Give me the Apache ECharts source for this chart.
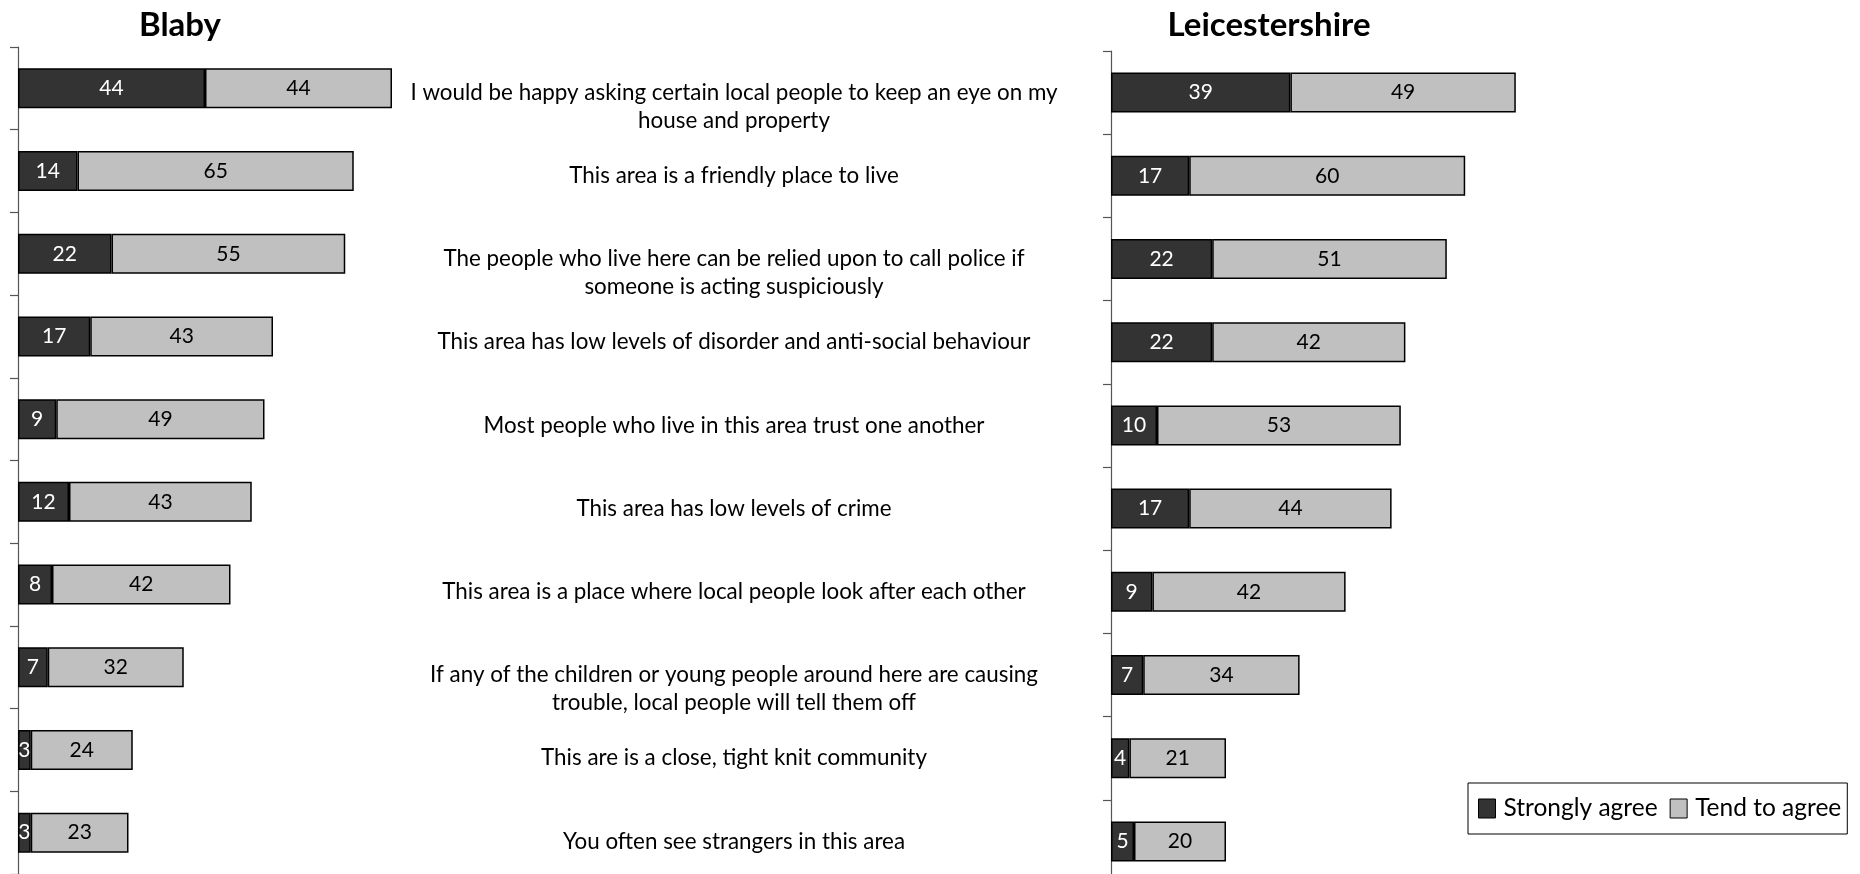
<!DOCTYPE html>
<html>
<head>
<meta charset="utf-8">
<script src="https://cdn.jsdelivr.net/npm/echarts@6/dist/echarts.min.js"></script>
<style>
  html, body { margin: 0; padding: 0; background: #fff; }
  #chart { width: 1860px; height: 874px; }
</style>
</head>
<body>
<div id="chart"></div>
<script>
// Survey statements, top to bottom (line breaks where the text wraps)
const statements = [
  'I would be happy asking certain local people to keep an eye on my\nhouse and property',
  'This area is a friendly place to live',
  'The people who live here can be relied upon to call police if\nsomeone is acting suspiciously',
  'This area has low levels of disorder and anti-social behaviour',
  'Most people who live in this area trust one another',
  'This area has low levels of crime',
  'This area is a place where local people look after each other',
  'If any of the children or young people around here are causing\ntrouble, local people will tell them off',
  'This are is a close, tight knit community',
  'You often see strangers in this area'
];

const areaTitles = ['Blaby', 'Leicestershire'];
const responseNames = ['Strongly agree', 'Tend to agree'];

// Percentages agreeing
const blabyStrongly = [44, 14, 22, 17, 9, 12, 8, 7, 3, 3];
const blabyTend     = [44, 65, 55, 43, 49, 43, 42, 32, 24, 23];
const leicsStrongly = [39, 17, 22, 22, 10, 17, 9, 7, 4, 5];
const leicsTend     = [49, 60, 51, 42, 53, 44, 42, 34, 21, 20];

const FONT = 'Lato';
const DARK = '#333333';
const LIGHT = '#c0c0c0';

function barSeries(name, data, gridIdx, color, textColor) {
  return {
    name: name,
    type: 'bar',
    stack: 'area' + gridIdx,
    xAxisIndex: gridIdx,
    yAxisIndex: gridIdx,
    data: data,
    barWidth: 40,
    itemStyle: { color: color, borderColor: '#000', borderWidth: 1.5 },
    label: {
      show: true,
      position: 'inside',
      color: textColor,
      fontFamily: FONT,
      fontSize: 21
    },
    emphasis: { disabled: true }
  };
}

function categoryAxis(gridIdx, showLabels) {
  return {
    type: 'category',
    gridIndex: gridIdx,
    data: statements,
    inverse: true,
    axisLine: { show: true, lineStyle: { color: '#555', width: 1.2 } },
    axisTick: { show: true, length: 8, lineStyle: { color: '#555', width: 1.2 } },
    axisLabel: showLabels ? {
      show: true,
      align: 'center',
      margin: 377,
      interval: 0,
      fontFamily: FONT,
      fontSize: 22.4,
      color: '#000',
      lineHeight: 28,
      // two-line statements sit a little lower, starting level with the bar
      formatter: v => v.indexOf('\n') >= 0 ? '\n' + v : v
    } : { show: false }
  };
}

const chart = echarts.init(document.getElementById('chart'));
chart.setOption({
  animation: false,
  backgroundColor: '#fff',
  title: [
    { text: areaTitles[0], left: 175, top: 4, textAlign: 'center',
      textStyle: { fontFamily: FONT, fontWeight: 'bold', fontSize: 33, color: '#000' } },
    { text: areaTitles[1], left: 1264, top: 4, textAlign: 'center',
      textStyle: { fontFamily: FONT, fontWeight: 'bold', fontSize: 33, color: '#000' } }
  ],
  legend: {
    data: responseNames,
    left: 1468,
    top: 783,
    width: 380,
    padding: [13, 6, 13, 10],
    itemGap: 12,
    itemWidth: 17,
    itemHeight: 19,
    itemStyle: { borderColor: '#000', borderWidth: 1 },
    icon: 'rect',
    borderColor: '#000',
    borderWidth: 1,
    textStyle: { fontFamily: FONT, fontSize: 24.5, color: '#000', padding: [0, 0, 0, 3] }
  },
  grid: [
    { left: 18, top: 47, width: 425, height: 827, outerBoundsMode: 'none' },
    { left: 1111, top: 51, width: 460, height: 832, outerBoundsMode: 'none' }
  ],
  xAxis: [
    { type: 'value', gridIndex: 0, min: 0, max: 100, show: false },
    { type: 'value', gridIndex: 1, min: 0, max: 100, show: false }
  ],
  yAxis: [categoryAxis(0, false), categoryAxis(1, true)],
  series: [
    barSeries(responseNames[0], blabyStrongly, 0, DARK, '#fff'),
    barSeries(responseNames[1], blabyTend, 0, LIGHT, '#000'),
    barSeries(responseNames[0], leicsStrongly, 1, DARK, '#fff'),
    barSeries(responseNames[1], leicsTend, 1, LIGHT, '#000')
  ]
});
</script>
</body>
</html>
